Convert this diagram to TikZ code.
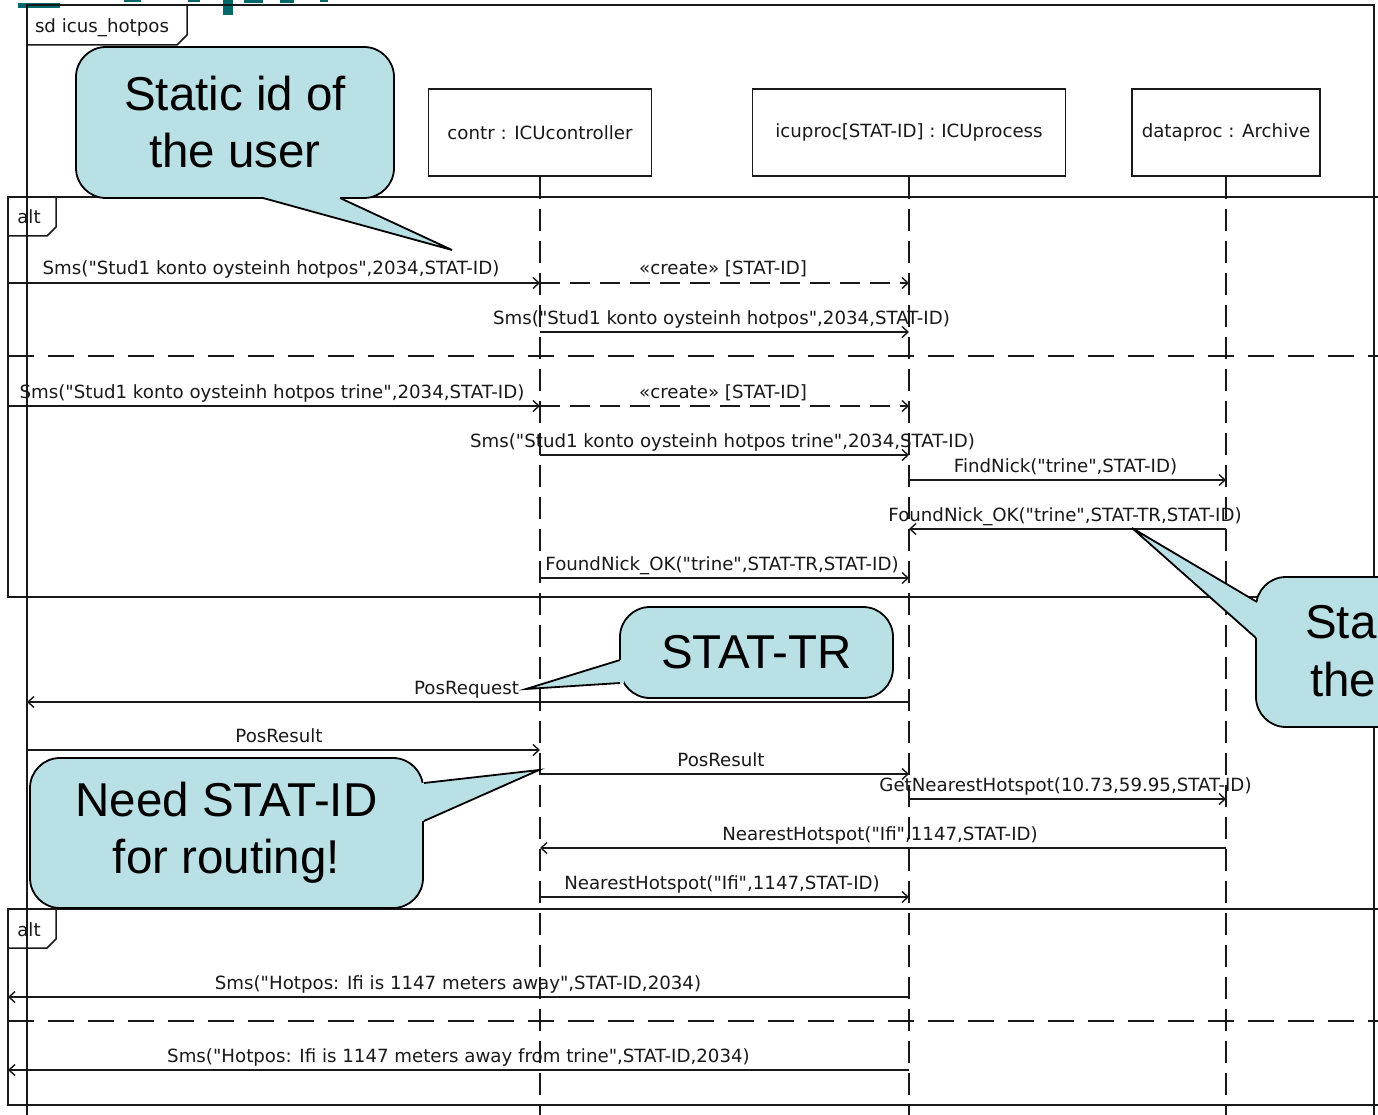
\documentclass[tikz,border=0pt]{standalone}
\usepackage{fontspec}
\newfontfamily\umlfont{DejaVu Sans}
\newfontfamily\callfont{Liberation Sans}
\usetikzlibrary{arrows.meta}
\definecolor{callfill}{RGB}{185,224,228}
\definecolor{tealmk}{RGB}{0,104,104}
\definecolor{ink}{RGB}{25,25,25}
\begin{document}
\begin{tikzpicture}[x=1pt,y=-1pt,
  uml/.style={font=\umlfont\fontsize{18.2}{22}\selectfont, inner sep=0pt, text=ink},
  lbl/.style={uml, anchor=base},
  msg/.style={draw=ink, line width=1.4pt, -{Straight Barb[length=6pt,width=11pt]}},
  createmsg/.style={msg, dash pattern=on 20pt off 10pt},
  lifebox/.style={uml, draw=ink, line width=1.5pt, minimum height=87pt},
  lifeline/.style={draw=ink, line width=2pt, dash pattern=on 22pt off 10pt},
  frameline/.style={draw=ink, line width=1.5pt},
  sepline/.style={draw=ink, line width=1.6pt, dash pattern=on 26pt off 14pt},
  callbox/.style={draw=black, line width=1.8pt, fill=callfill, rounded corners=30pt, inner sep=0pt, align=center, font=\callfont\fontsize{47.5}{57}\selectfont},
  calltext/.style={inner sep=0pt, font=\callfont\fontsize{47.5}{57}\selectfont},
  wedgeline/.style={draw=black, line width=1.8pt, line join=miter},
  tealmark/.style={fill=tealmk}
]
\useasboundingbox (0,0) rectangle (1378,1115);
\clip (0,0) rectangle (1378,1115);
\fill[white] (0,0) rectangle (1378,1115);

% cropped title fragments
\fill[tealmark] (18,3) rectangle (60,8);
\fill[tealmark] (124,0) rectangle (141,2.5);
\fill[tealmark] (188,0) rectangle (200,2);
\fill[tealmark] (223,0) rectangle (233,15);
\fill[tealmark] (244,0) rectangle (263,3);
\fill[tealmark] (280,0) rectangle (294,3);
\fill[tealmark] (320,0) rectangle (328,2);

% helper coordinates
\coordinate (sdL) at (27,0);
\coordinate (altL) at (8,0);
\coordinate (bot) at (0,1118);

% sd frame
\draw[frameline] (27,1118) -- (27,5) -- (1374,5) -- (1374,1118);
\draw[frameline] (27,45) -- (177,45) -- (187,35) -- (187,5);
\node[lbl] (sdlbl) at (102,33) {sd icus\_hotpos};

% lifeline heads
\node[lifebox, minimum width=223pt] (contr) at (540,132.5) {contr : ICUcontroller};
\node[lifebox, minimum width=313pt] (icuproc) at (909,132.5) {icuproc[STAT-ID] : ICUprocess};
\node[lifebox, minimum width=188pt] (dataproc) at (1226,132.5) {dataproc : Archive};

% lifelines
\draw[lifeline] (contr.south) -- (contr.south |- bot);
\draw[lifeline] (icuproc.south) -- (icuproc.south |- bot);
\draw[lifeline] (dataproc.south) -- (dataproc.south |- bot);

% alt frame 1
\draw[frameline] (1385,197) -- (8,197) -- (8,597) -- (1385,597);
\draw[frameline] (8,236) -- (47,236) -- (56,227) -- (56,197);
\node[lbl] (alt1lbl) at (29,224) {alt};
\draw[sepline] (8,356) -- (1385,356);

% alt frame 2
\draw[frameline] (1385,909) -- (8,909) -- (8,1105) -- (1385,1105);
\draw[frameline] (8,948) -- (47,948) -- (56,939) -- (56,909);
\node[lbl] (alt2lbl) at (29,936) {alt};
\draw[sepline] (8,1021) -- (1385,1021);

% message levels
\coordinate (m1) at (0,283);
\coordinate (m3) at (0,332);
\coordinate (m4) at (0,406);
\coordinate (m6) at (0,455);
\coordinate (m7) at (0,480);
\coordinate (m8) at (0,529);
\coordinate (m9) at (0,578);
\coordinate (m10) at (0,702);
\coordinate (m11) at (0,750);
\coordinate (m12) at (0,774);
\coordinate (m13) at (0,799);
\coordinate (m14) at (0,848);
\coordinate (m15) at (0,897);
\coordinate (m16) at (0,997);
\coordinate (m17) at (0,1070);

% messages
\draw[msg] (altL |- m1) -- (contr.south |- m1);
\node[lbl] (t1) at (271,275) {Sms("Stud1 konto oysteinh hotpos",2034,STAT-ID)};
\draw[createmsg] (contr.south |- m1) -- (icuproc.south |- m1);
\node[lbl] (t2) at (723,275) {«create» [STAT-ID]};
\draw[msg] (contr.south |- m3) -- (icuproc.south |- m3);
\node[lbl] (t3) at (721.5,324) {Sms("Stud1 konto oysteinh hotpos",2034,STAT-ID)};

\draw[msg] (altL |- m4) -- (contr.south |- m4);
\node[lbl] (t4) at (272,398) {Sms("Stud1 konto oysteinh hotpos trine",2034,STAT-ID)};
\draw[createmsg] (contr.south |- m4) -- (icuproc.south |- m4);
\node[lbl] (t5) at (723,398) {«create» [STAT-ID]};
\draw[msg] (contr.south |- m6) -- (icuproc.south |- m6);
\node[lbl] (t6) at (722.5,447) {Sms("Stud1 konto oysteinh hotpos trine",2034,STAT-ID)};
\draw[msg] (icuproc.south |- m7) -- (dataproc.south |- m7);
\node[lbl] (t7) at (1065.5,472) {FindNick("trine",STAT-ID)};
\draw[msg] (dataproc.south |- m8) -- (icuproc.south |- m8);
\node[lbl] (t8) at (1065,521) {FoundNick\_OK("trine",STAT-TR,STAT-ID)};
\draw[msg] (contr.south |- m9) -- (icuproc.south |- m9);
\node[lbl] (t9) at (722,570) {FoundNick\_OK("trine",STAT-TR,STAT-ID)};

\draw[msg] (icuproc.south |- m10) -- (sdL |- m10);
\node[lbl] (t10) at (466.5,694) {PosRequest};
\draw[msg] (sdL |- m11) -- (contr.south |- m11);
\node[lbl] (t11) at (279,742) {PosResult};
\draw[msg] (contr.south |- m12) -- (icuproc.south |- m12);
\node[lbl] (t12) at (721,766) {PosResult};
\draw[msg] (icuproc.south |- m13) -- (dataproc.south |- m13);
\node[lbl] (t13) at (1065.5,791) {GetNearestHotspot(10.73,59.95,STAT-ID)};
\draw[msg] (dataproc.south |- m14) -- (contr.south |- m14);
\node[lbl] (t14) at (880,840) {NearestHotspot("Ifi",1147,STAT-ID)};
\draw[msg] (contr.south |- m15) -- (icuproc.south |- m15);
\node[lbl] (t15) at (722,889) {NearestHotspot("Ifi",1147,STAT-ID)};

\draw[msg] (icuproc.south |- m16) -- (altL |- m16);
\node[lbl] (t16) at (458,989) {Sms("Hotpos: Ifi is 1147 meters away",STAT-ID,2034)};
\draw[msg] (icuproc.south |- m17) -- (altL |- m17);
\node[lbl] (t17) at (458.5,1062) {Sms("Hotpos: Ifi is 1147 meters away from trine",STAT-ID,2034)};

% callout A
\node[callbox, minimum width=318pt, minimum height=151pt] (calA) at (235,122.5) {Static id of\\the user};
\coordinate (tipA) at (452,250);
\fill[callfill] (263,194) -- (263,198) -- (tipA) -- (340,198) -- (340,194) -- cycle;
\draw[wedgeline] (263,198) -- (tipA) -- (340,198);

% callout B
\node[callbox, minimum width=273pt, minimum height=91pt] (calB) at (756.5,652.5) {STAT-TR};
\coordinate (tipB) at (526,689);
\fill[callfill] (624,660) -- (620,660) -- (tipB) -- (620,683) -- (624,683) -- cycle;
\draw[wedgeline] (620,660) -- (tipB) -- (620,683);

% callout C
\node[callbox, minimum width=393pt, minimum height=150pt] (calC) at (226.5,833) {Need STAT-ID\\for routing!};
\coordinate (tipC) at (539,770);
\fill[callfill] (420,783) -- (424,783) -- (tipC) -- (424,821) -- (420,821) -- cycle;
\draw[wedgeline] (424,783) -- (tipC) -- (424,821);

% callout D (cut by the right edge)
\node[callbox, minimum width=260pt, minimum height=150pt] (calD) at (1386,652) {};
\coordinate (tipD) at (1132,528);
\fill[callfill] (1262,602) -- (1257,602) -- (tipD) -- (1256,638) -- (1262,638) -- cycle;
\draw[wedgeline] (1257,602) -- (tipD) -- (1256,638);
\node[calltext, anchor=base west] (calDa) at (1305,638) {Sta};
\node[calltext, anchor=base west] (calDb) at (1310,696) {the};
\end{tikzpicture}
\end{document}
